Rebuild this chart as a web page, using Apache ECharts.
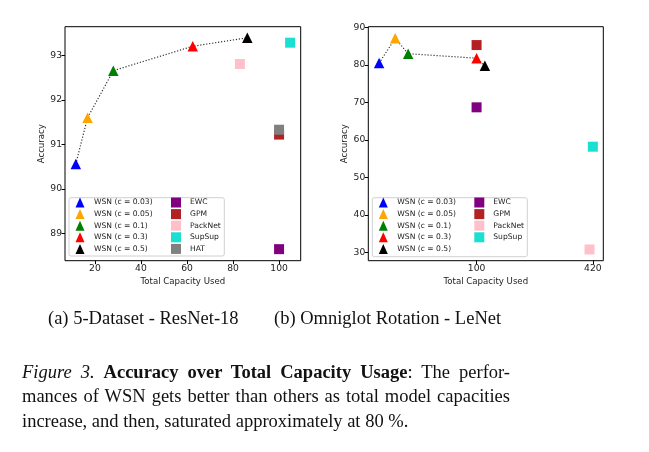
<!DOCTYPE html>
<html><head><meta charset="utf-8">
<script src="https://cdn.jsdelivr.net/npm/echarts@6/dist/echarts.min.js"></script>
<style>
html,body{margin:0;padding:0;background:#fff;}
#chart{position:absolute;left:0;top:0;width:649px;height:452px;}
.cap{position:absolute;font-family:'Liberation Serif','Times New Roman',serif;color:#111;font-size:18.5px;white-space:nowrap;}
.just{white-space:normal;width:488px;text-align:justify;text-align-last:justify;line-height:24.5px;}
</style></head><body>
<div id="chart"></div>
<div class="cap" style="left:48px;top:307px;line-height:22px">(a) 5-Dataset - ResNet-18</div>
<div class="cap" style="left:274px;top:307px;line-height:22px">(b) Omniglot Rotation - LeNet</div>
<div class="cap just" style="left:22px;top:359.5px;"><i>Figure 3.</i> <b>Accuracy over Total Capacity Usage</b>: The perfor-</div>
<div class="cap just" style="left:22px;top:384px;">mances of WSN gets better than others as total model capacities</div>
<div class="cap" style="left:22px;top:408.5px;line-height:24.5px;">increase, and then, saturated approximately at 80 %.</div>
<script>
// ---- data ----
const wsnNames = ['WSN (c = 0.03)', 'WSN (c = 0.05)', 'WSN (c = 0.1)', 'WSN (c = 0.3)', 'WSN (c = 0.5)'];
const baseNamesLeft = ['EWC', 'GPM', 'PackNet', 'SupSup', 'HAT'];
const baseNamesRight = ['EWC', 'GPM', 'PackNet', 'SupSup'];

// (a) 5-Dataset - ResNet-18
const leftWsnCapacity = [11.7, 16.8, 28.0, 62.5, 86.2];
const leftWsnAccuracy = [90.56, 91.6, 92.66, 93.21, 93.4];
const leftBaseCapacity = [100, 100, 83, 104.8, 100];
const leftBaseAccuracy = [88.64, 91.22, 92.81, 93.29, 91.33];
const leftXTicks = [20, 40, 60, 80, 100];
const leftYTicks = [89, 90, 91, 92, 93];

// (b) Omniglot Rotation - LeNet (broken x axis: 420 shown right after 100)
const rightWsnCapacity = [41.3, 51, 58.8, 100, 105];
const rightWsnAccuracy = [80.5, 87.1, 83.0, 81.8, 79.8];
const rightBaseCapacity = [100, 100, 418, 420];
const rightBaseAccuracy = [68.7, 85.3, 30.8, 58.2];
const rightXTicks = [100, 420];
const rightYTicks = [30, 40, 50, 60, 70, 80, 90];

// ---- styles ----
const wsnColors = ['#0000ff', '#ffa500', '#008000', '#ff0000', '#000000'];
const baseColors = {EWC: '#800080', GPM: '#b22222', PackNet: '#ffc0cb', SupSup: '#19e0d0', HAT: '#808080'};
const FONT = 'DejaVu Sans';

// broken-axis mapping for panel (b)
function brk(v) { return v > 150 ? 170 + (v - 420) : v; }

const chart = echarts.init(document.getElementById('chart'), null, {renderer: 'canvas'});

function xAxisCfg(grid, min, max, ticks, fmt) {
  return {
    gridIndex: grid, type: 'value', min: min, max: max,
    axisLine: {show: false, onZero: false}, splitLine: {show: false},
    axisTick: {show: true, length: 3.5, lineStyle: {color: '#000', width: 1}, customValues: ticks},
    axisLabel: {customValues: ticks, fontSize: 9.2, color: '#222', margin: 3, fontFamily: FONT, formatter: fmt},
    name: 'Total Capacity Used', nameLocation: 'middle', nameGap: 12,
    nameTextStyle: {fontSize: 8.6, color: '#222', fontFamily: FONT}
  };
}
function yAxisCfg(grid, min, max, ticks) {
  return {
    gridIndex: grid, type: 'value', min: min, max: max,
    axisLine: {show: false, onZero: false}, splitLine: {show: false},
    axisTick: {show: true, length: 3.5, lineStyle: {color: '#000', width: 1}, customValues: ticks},
    axisLabel: {customValues: ticks, fontSize: 9.2, color: '#222', margin: 3, fontFamily: FONT},
    name: 'Accuracy', nameLocation: 'middle', nameGap: 17,
    nameTextStyle: {fontSize: 8.6, color: '#222', fontFamily: FONT}
  };
}

const series = [];
function addPanel(idx, wx, wy, bNames, bx, by, mapX) {
  series.push({
    type: 'line', xAxisIndex: idx, yAxisIndex: idx, z: 1, silent: true,
    data: wx.map((x, i) => [mapX(x), wy[i]]), symbol: 'none',
    lineStyle: {type: [1.2, 1.8], width: 1.2, color: '#333'}
  });
  wsnNames.forEach((n, i) => series.push({
    type: 'scatter', name: n, xAxisIndex: idx, yAxisIndex: idx, z: 2,
    symbol: 'triangle', symbolSize: 10.5, itemStyle: {color: wsnColors[i], opacity: 1},
    data: [[mapX(wx[i]), wy[i]]]
  }));
  bNames.forEach((n, i) => series.push({
    type: 'scatter', name: n, xAxisIndex: idx, yAxisIndex: idx, z: 2,
    symbol: 'rect', symbolSize: 10, itemStyle: {color: baseColors[n], opacity: 1},
    data: [[mapX(bx[i]), by[i]]]
  }));
}
addPanel(0, leftWsnCapacity, leftWsnAccuracy, baseNamesLeft, leftBaseCapacity, leftBaseAccuracy, v => v);
addPanel(1, rightWsnCapacity, rightWsnAccuracy, baseNamesRight, rightBaseCapacity, rightBaseAccuracy, brk);

function legendCfg(left, names, icon, w, pad) {
  return {
    left: left, top: 197.5, orient: 'vertical', padding: 0, itemGap: 1.6,
    itemWidth: w, itemHeight: 10, selectedMode: false, z: 5,
    itemStyle: {opacity: 1},
    textStyle: {fontSize: 7.6, color: '#222', fontFamily: FONT, padding: [0, 0, 0, pad]},
    data: names.map(n => ({name: n, icon: icon}))
  };
}

chart.setOption({
  animation: false,
  backgroundColor: '#fff',
  grid: [
    {left: 65, top: 26.7, width: 235.7, height: 234, show: true, borderColor: '#000', borderWidth: 1, backgroundColor: 'transparent'},
    {left: 368.3, top: 26.7, width: 235, height: 234, show: true, borderColor: '#000', borderWidth: 1, backgroundColor: 'transparent'}
  ],
  xAxis: [
    xAxisCfg(0, 7, 109.4, leftXTicks),
    xAxisCfg(1, 34.8, 176.3, rightXTicks.map(brk), v => String(rightXTicks[rightXTicks.map(brk).indexOf(v)]))
  ],
  yAxis: [
    yAxisCfg(0, 88.38, 93.65, leftYTicks),
    yAxisCfg(1, 27.8, 90.2, rightYTicks)
  ],
  legend: [
    legendCfg(75.5, wsnNames, 'triangle', 9, 4.5),
    legendCfg(171, baseNamesLeft, 'rect', 10, 4),
    legendCfg(378.8, wsnNames, 'triangle', 9, 4.5),
    legendCfg(474.3, baseNamesRight, 'rect', 10, 4)
  ],
  graphic: [
    {type: 'rect', z: 4, shape: {x: 69, y: 197.7, width: 155.3, height: 58.3, r: 2},
     style: {fill: 'rgba(255,255,255,0.8)', stroke: '#d0d0d0', lineWidth: 1}},
    {type: 'rect', z: 4, shape: {x: 372.3, y: 197.7, width: 155, height: 59, r: 2},
     style: {fill: 'rgba(255,255,255,0.8)', stroke: '#d0d0d0', lineWidth: 1}}
  ],
  series: series
});
</script>
</body></html>
